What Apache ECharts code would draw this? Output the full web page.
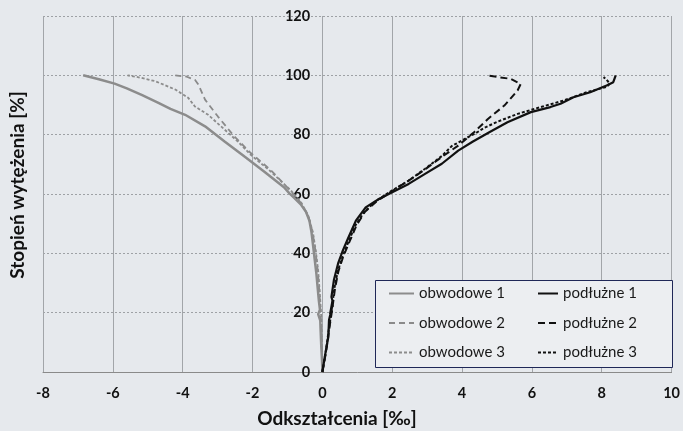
<!DOCTYPE html>
<html>
<head>
<meta charset="utf-8">
<script src="https://cdn.jsdelivr.net/npm/echarts@6/dist/echarts.min.js"></script>
<style>
html,body{margin:0;padding:0;background:#e6e9ed;}
#c{width:683px;height:431px;}
</style>
</head>
<body>
<div id="c"></div>
<script>
// ---- data ----
var seriesNames = ['obwodowe 1','obwodowe 2','obwodowe 3','podłużne 1','podłużne 2','podłużne 3'];
var xTicks = {min:-8, max:10, step:2};
var yTicks = {min:0, max:120, step:20};
var xTitle = 'Odkształcenia [‰]';
var yTitle = 'Stopień wytężenia [%]';

var obwodowe1 = [[0,0],[-0.01,4],[-0.03,8.3],[-0.05,14],[-0.06,17.3],[-0.12,19.5],[-0.07,21],[-0.1,24],[-0.14,29],[-0.17,33],[-0.22,38],[-0.27,43],[-0.31,47],[-0.37,51],[-0.47,54],[-0.62,56.5],[-0.8,58.6],[-0.95,60.3],[-1.1,62.3],[-1.67,67.6],[-2.23,72.6],[-2.8,77.7],[-3.36,82.8],[-3.93,86.7],[-4.35,88.7],[-4.68,90.6],[-5.16,93.3],[-5.6,95.6],[-5.95,97.2],[-6.4,98.7],[-6.85,100]];
var obwodowe2 = [[0,0],[-0.01,8],[-0.04,18],[-0.08,26],[-0.13,34],[-0.2,41],[-0.28,47],[-0.4,52.5],[-0.6,56.8],[-0.92,61.2],[-1.48,68.1],[-2.05,73.8],[-2.52,79.4],[-2.99,86.1],[-3.36,91.8],[-3.55,96.9],[-3.65,98.5],[-3.9,99.6],[-4.25,100]];
var obwodowe3 = [[0,0],[-0.01,8],[-0.03,18],[-0.07,26],[-0.12,34],[-0.19,41],[-0.27,47],[-0.4,52.5],[-0.6,57],[-0.92,61.4],[-1.48,67.6],[-2.05,73.2],[-2.42,77.7],[-2.8,81.7],[-3.27,86.7],[-3.65,89.5],[-3.84,92.4],[-4.21,95.2],[-4.78,98],[-5.2,99.2],[-5.58,100]];
var podluzne1 = [[0,0],[0.1,7.3],[0.17,11.8],[0.19,17.5],[0.29,22.5],[0.22,19.5],[0.29,24],[0.26,25.3],[0.33,31],[0.45,36.6],[0.59,41.1],[0.73,44.9],[0.96,51],[1.24,55.5],[1.62,58.3],[2.0,60.6],[2.47,63.4],[2.94,66.8],[3.42,70.2],[3.89,74.6],[4.3,77.6],[4.78,80.8],[5.3,84.2],[5.97,87.6],[6.53,89.3],[6.82,90.4],[7.19,92.6],[7.67,94.3],[8.14,96.6],[8.33,97.7],[8.4,100]];
var podluzne2 = [[0,0],[0.11,7],[0.19,14],[0.28,21],[0.36,28],[0.46,34],[0.6,39],[0.78,44],[0.98,49.5],[1.22,54],[1.55,57.5],[2.0,61],[2.47,64.5],[2.94,68.3],[3.42,72.5],[3.89,76.3],[4.36,81],[4.74,85.3],[5.21,89.8],[5.59,94.9],[5.68,97.1],[5.4,98.8],[4.74,99.9]];
var podluzne3 = [[0,0],[0.1,7],[0.18,14],[0.27,21],[0.34,28],[0.44,34],[0.58,39],[0.75,44],[0.95,49.5],[1.2,54],[1.55,57.8],[2.0,61.2],[2.47,64.5],[2.94,68.5],[3.42,72.8],[3.7,76.1],[4.08,78.6],[4.36,80.3],[4.64,82.3],[5.0,84.3],[5.59,87],[6.25,89.3],[6.91,91.5],[7.57,94.3],[8.14,96.1],[8.23,97.2],[8.14,98.5],[8.05,99.4]];

var seriesData = [obwodowe1, obwodowe2, obwodowe3, podluzne1, podluzne2, podluzne3];
var styles = [
  {color:'#8c8c8c', width:2.5, type:'solid'},
  {color:'#8a8a8a', width:1.8, type:[6,4]},
  {color:'#8c8c8c', width:1.8, type:[3,2]},
  {color:'#111111', width:2.2, type:'solid'},
  {color:'#111111', width:2, type:[7,4]},
  {color:'#111111', width:2, type:[3,2]}
];

var FONT = 'Lato';
var GRID = {left:43, right:3, top:16, bottom:59};
var W = 683;
// y axis sits on x = 0: shift it inward from the grid's left edge
var yAxisShift = (0 - xTicks.min) / (xTicks.max - xTicks.min) * (W - GRID.left - GRID.right);

var chart = echarts.init(document.getElementById('c'), null, {renderer:'canvas'});

var series = seriesNames.map(function(n,i){
  return {
    name:n, type:'line', data:seriesData[i], symbol:'none', showSymbol:false,
    animation:false, z:2,
    itemStyle:{color:styles[i].color},
    lineStyle:{color:styles[i].color, width:styles[i].width, type:styles[i].type}
  };
});

var legendCommon = {orient:'vertical', top:286, itemHeight:14, itemGap:14.5,
  textStyle:{fontFamily:FONT, fontSize:15, color:'#1a1a1a'}, padding:0, z:5,
  itemStyle:{opacity:0}};

chart.setOption({
  backgroundColor:'#e6e9ed',
  animation:false,
  grid:{left:GRID.left, right:GRID.right, top:GRID.top, bottom:GRID.bottom, containLabel:false},
  xAxis:{
    type:'value', min:xTicks.min, max:xTicks.max, interval:xTicks.step,
    axisLine:{show:true, onZero:false, lineStyle:{color:'#8a8a8a', width:1}},
    axisTick:{show:false},
    axisLabel:{color:'#111', fontFamily:FONT, fontWeight:'bold', fontSize:14.5, margin:14},
    splitLine:{show:true, lineStyle:{color:'#a2a5a9', width:1, type:'solid'}}
  },
  yAxis:{
    type:'value', min:yTicks.min, max:yTicks.max, interval:yTicks.step,
    position:'left', offset:-yAxisShift,
    axisLine:{show:false},
    axisTick:{show:false},
    axisLabel:{color:'#111', fontFamily:FONT, fontWeight:'bold', fontSize:14.5, margin:16},
    splitLine:{show:true, lineStyle:{color:'#9ea1a5', width:1, type:[2,2]}}
  },
  legend:[
    Object.assign({data:seriesNames.slice(0,3), left:388, itemWidth:25}, legendCommon),
    Object.assign({data:seriesNames.slice(3,6), left:537, itemWidth:20}, legendCommon)
  ],
  graphic:[
    {type:'rect', left:375, top:280, z:3, shape:{width:297, height:87},
     style:{fill:'#eceef1', stroke:'#1f2757', lineWidth:1}},
    {type:'text', x:337, y:419, z:5,
     style:{text:xTitle, font:'bold 19px Lato', fill:'#111', textAlign:'center', textVerticalAlign:'middle'}},
    {type:'text', x:18, y:185, rotation:Math.PI/2, z:5,
     style:{text:yTitle, font:'bold 19px Lato', fill:'#111', textAlign:'center', textVerticalAlign:'middle'}}
  ],
  series:series
});
</script>
</body>
</html>
